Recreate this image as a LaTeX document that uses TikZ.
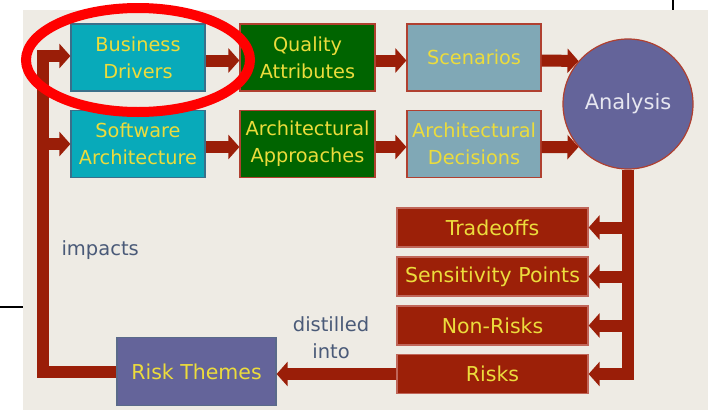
\documentclass[tikz,border=0pt]{standalone}
\usepackage{fontspec}
\setmainfont{DejaVu Sans}
\usetikzlibrary{arrows.meta}
\definecolor{slidebg}{HTML}{EEEBE4}
\definecolor{cyanbox}{HTML}{08AABA}
\definecolor{cyanedge}{HTML}{3A6F8A}
\definecolor{greenbox}{HTML}{006400}
\definecolor{greybox}{HTML}{80A8B6}
\definecolor{purplebox}{HTML}{64649A}
\definecolor{purpleedge}{HTML}{5A6A8A}
\definecolor{redbox}{HTML}{9C2008}
\definecolor{rededge}{HTML}{B04030}
\definecolor{bar}{HTML}{9A1E08}
\definecolor{ytext}{HTML}{ECDC3C}
\definecolor{labeltext}{HTML}{4A5A78}
\definecolor{anatext}{HTML}{E6E6F0}
\tikzset{
  box/.style={rectangle, inner sep=0pt, line width=1.2pt, text=ytext, align=center,
    font=\fontsize{20.5}{27}\selectfont},
  topbox/.style={box, font=\fontsize{19.3}{27}\selectfont},
  cybox/.style={topbox, fill=cyanbox, draw=cyanedge, minimum width=134pt, minimum height=67pt},
  grbox/.style={topbox, fill=greenbox, draw=rededge, minimum width=135pt, minimum height=67pt},
  gybox/.style={topbox, fill=greybox, draw=rededge, minimum width=134pt, minimum height=67pt},
  rdbox/.style={box, fill=redbox, draw=rededge!80!white, minimum width=191pt, minimum height=39pt},
  ptbox/.style={box, fill=purplebox, draw=purpleedge, minimum width=159pt, minimum height=68pt},
  arr/.style={draw=bar, line width=12pt, line join=miter, -{Triangle[width=24pt,length=11pt]}},
  barline/.style={draw=bar, line width=12pt, line join=miter},
  lbl/.style={text=labeltext, align=center, font=\fontsize{19.5}{27}\selectfont}
}
\begin{document}
\begin{tikzpicture}[x=1pt,y=-1pt]
\useasboundingbox (0,0) rectangle (708,410);
\fill[white] (0,0) rectangle (708,410);
\fill[slidebg] (23,10) rectangle (708,410);
\draw[black, line width=2pt] (0,307) -- (23,307);
\draw[black, line width=2pt] (673,0) -- (673,10);

\node[cybox] (bd) at (138,57.5) {Business\\Drivers};
\node[grbox] (qa) at (307.5,57.5) {Quality\\Attributes};
\node[gybox] (sc) at (474,57.5) {Scenarios};
\node[cybox] (sa) at (138,144) {Software\\Architecture};
\node[grbox] (aa) at (307.5,144) {Architectural\\Approaches};
\node[gybox] (ad) at (474,144) {Architectural\\Decisions};
\node[circle, fill=purplebox, draw=rededge, line width=1.2pt, minimum size=130pt, inner sep=0pt,
  text=anatext, font=\fontsize{21}{27}\selectfont] (an) at (628,104) {Analysis};

\node[rdbox] (to) at (492.5,227.5) {Tradeoffs};
\node[rdbox] (sp) at (492.5,276.5) {Sensitivity Points};
\node[rdbox] (nr) at (492.5,325.5) {Non-Risks};
\node[rdbox] (ri) at (492.5,374) {Risks};
\node[ptbox] (rt) at (196.5,371.5) {Risk Themes};

\node[lbl, anchor=west] (imp) at (58,250) {impacts};
\node[lbl] (dist) at (331,338) {distilled\\into};

% top rows
\draw[arr] ([yshift=-3pt]bd.east) -- ([yshift=-3pt]qa.west);
\draw[arr] ([yshift=-3pt]qa.east) -- ([yshift=-3pt]sc.west);
\draw[arr] ([yshift=-3pt]sa.east) -- ([yshift=-3pt]aa.west);
\draw[arr] ([yshift=-3pt]aa.east) -- ([yshift=-3pt]ad.west);
\draw[arr] ([yshift=-3pt]sc.east) -- (an.139);
\draw[arr] ([yshift=-3pt]ad.east) -- (an.221);

% analysis outputs
\draw[barline] (an.south) -- (an.south |- ri.east);
\draw[arr] (an.south |- to.east) -- (to.east);
\draw[arr] (an.south |- sp.east) -- (sp.east);
\draw[arr] (an.south |- nr.east) -- (nr.east);
\draw[arr] ([yshift=6pt]an.south |- ri.east) -- (an.south |- ri.east) -- (ri.east);

% distilled into
\draw[arr] (ri.west) -- (ri.west -| rt.east);

% impacts loop
\coordinate (cl) at (43,372);
\coordinate (ct) at (43,56);
\draw[arr] (rt.west |- cl) -- (cl) -- (ct) -- (ct -| bd.west);
\draw[arr] (cl |- sa.west) -- (sa.west);

% highlight ellipse
\draw[red, line width=10pt] (138,60) ellipse [x radius=112, y radius=52];
\end{tikzpicture}
\end{document}
